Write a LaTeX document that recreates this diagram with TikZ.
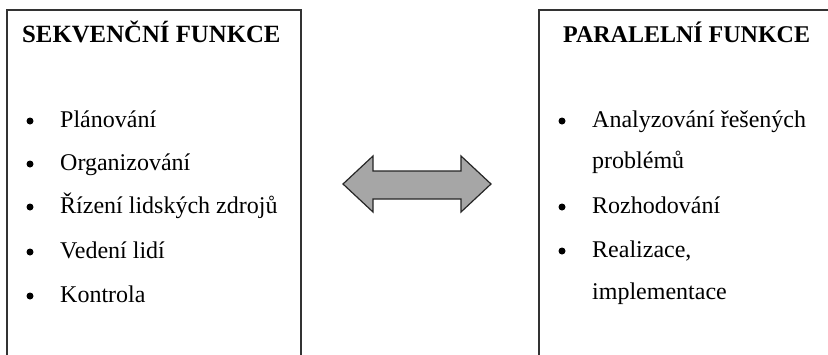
\documentclass[tikz,border=0pt]{standalone}
\usepackage{fontspec}
\setmainfont{Liberation Serif}
\begin{document}
\begin{tikzpicture}[x=1pt,y=-1pt,
  frame/.style={draw=black!80,line width=1.6pt},
  title/.style={anchor=base west,inner sep=0pt,font=\fontsize{24.8}{28}\selectfont\bfseries},
  item/.style={anchor=base west,inner sep=0pt,font=\fontsize{24}{28}\selectfont},
  bul/.style={circle,fill=black,inner sep=0pt,minimum size=7pt},
  arr/.style={draw=black!85,line width=1.2pt,fill=black!35,line join=miter}]
\useasboundingbox (0,0) rectangle (828,354);
\fill[white] (0,0) rectangle (828,354);
% boxes
\draw[frame] (7,360) -- (7,10) -- (301,10) -- (301,360);
\draw[frame] (539,360) -- (539,10) -- (835,10);
% titles
\node[title] (t1) at (22,42) {SEKVENČNÍ FUNKCE};
\node[title,font=\fontsize{24}{28}\selectfont\bfseries] (t2) at (563,42) {PARALELNÍ FUNKCE};
% left items
\foreach \y/\t [count=\i] in {127/Plánování,170/Organizování,213/Řízení lidských zdrojů,258/Vedení lidí,302/Kontrola}{
  \node[bul] (lb\i) at (30,\y-6) {};
  \node[item] (l\i) at (60,\y) {\t};
}
% right items
\node[bul] (rb1) at (562,121) {};
\node[item] (r1) at (592,127) {Analyzování řešených};
\node[item] (r1b) at (592,168) {problémů};
\node[bul] (rb2) at (562,207) {};
\node[item] (r2) at (592,213) {Rozhodování};
\node[bul] (rb3) at (562,251) {};
\node[item] (r3) at (592,257) {Realizace,};
\node[item] (r3b) at (592,299) {implementace};
% double arrow
\draw[arr] (343,184) -- (373,156) -- (373,171) -- (461,171) -- (461,156) -- (491,184)
  -- (461,212) -- (461,199) -- (373,199) -- (373,212) -- cycle;
\end{tikzpicture}
\end{document}
